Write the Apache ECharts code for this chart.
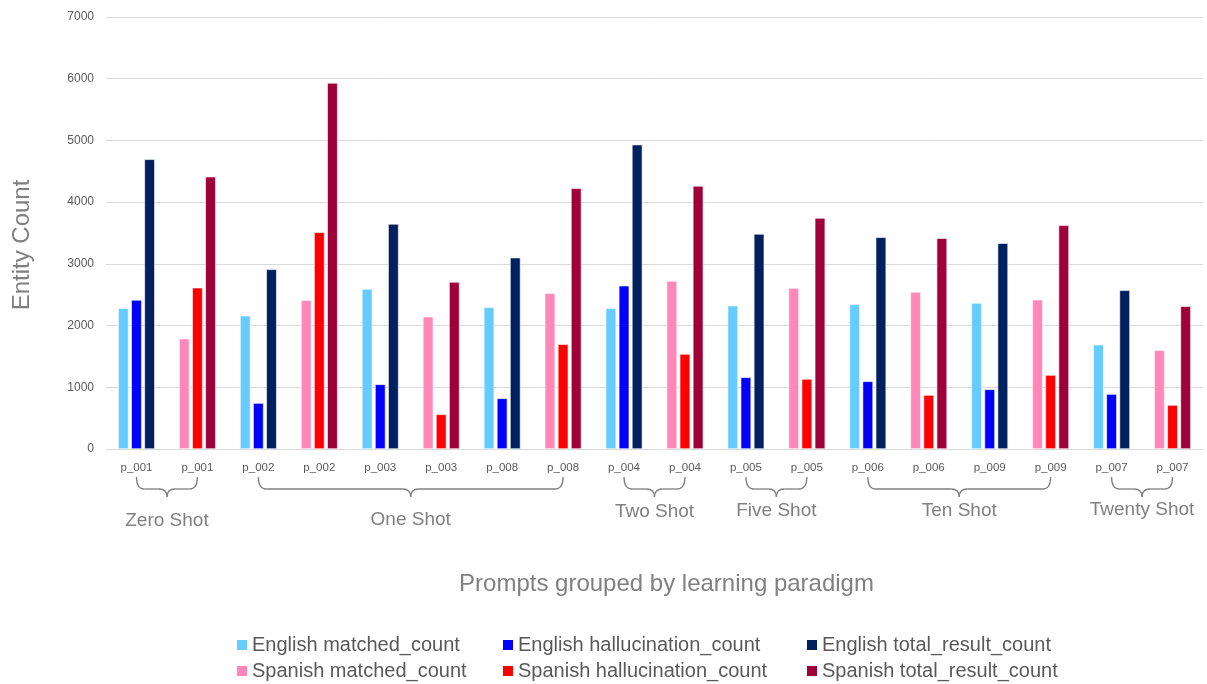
<!DOCTYPE html>
<html>
<head>
<meta charset="utf-8">
<script src="https://cdn.jsdelivr.net/npm/echarts@6/dist/echarts.min.js"></script>
<style>
  html, body { margin: 0; padding: 0; background: #fff; }
  #chart { width: 1207px; height: 684px; }
</style>
</head>
<body>
<div id="chart"></div>
<script>
// Prompt IDs along the x axis; each prompt appears once for English and once for Spanish
const prompts = ['p_001', 'p_001', 'p_002', 'p_002', 'p_003', 'p_003', 'p_008', 'p_008', 'p_004',
                 'p_004', 'p_005', 'p_005', 'p_006', 'p_006', 'p_009', 'p_009', 'p_007', 'p_007'];
const languages = ['en', 'es', 'en', 'es', 'en', 'es', 'en', 'es', 'en',
                   'es', 'en', 'es', 'en', 'es', 'en', 'es', 'en', 'es'];

// English runs (null on Spanish slots)
const enMatched = [2280, null, 2160, null, 2593, null, 2296, null, 2280, null, 2323, null, 2345, null, 2366, null, 1690, null];
const enHalluc  = [2415, null,  745, null, 1048, null,  821, null, 2647, null, 1162, null, 1097, null,  967, null,  891, null];
const enTotal   = [4695, null, 2912, null, 3647, null, 3101, null, 4932, null, 3485, null, 3431, null, 3334, null, 2572, null];

// Spanish runs (null on English slots)
const esMatched = [null, 1788, null, 2410, null, 2145, null, 2523, null, 2723, null, 2609, null, 2545, null, 2420, null, 1600];
const esHalluc  = [null, 2614, null, 3512, null,  562, null, 1697, null, 1540, null, 1135, null,  875, null, 1199, null,  713];
const esTotal   = [null, 4413, null, 5932, null, 2707, null, 4225, null, 4263, null, 3744, null, 3415, null, 3625, null, 2313];

// Learning paradigm groups: first and last category index of each bracket
const groupNames = ['Zero Shot', 'One Shot', 'Two Shot', 'Five Shot', 'Ten Shot', 'Twenty Shot'];
const groupStart = [0, 2, 8, 10, 12, 16];
const groupEnd   = [1, 7, 9, 11, 15, 17];

const yTicks = { min: 0, max: 7000, interval: 1000 };

const seriesNames = [
  'English matched_count', 'English hallucination_count', 'English total_result_count',
  'Spanish matched_count', 'Spanish hallucination_count', 'Spanish total_result_count'
];
const seriesData = [enMatched, enHalluc, enTotal, esMatched, esHalluc, esTotal];
const seriesColors = ['#66CCFF', '#0000FF', '#002060', '#FF88B8', '#FF0000', '#A00038'];
// matched / hallucination / total share a slot across languages
const stackKeys = ['m', 'h', 't', 'm', 'h', 't'];

const FONT = '"Liberation Sans", Arial, sans-serif';
const GRAY = '#595959';
const NAME_GRAY = '#808080';

const chart = echarts.init(document.getElementById('chart'), null, { renderer: 'canvas' });

const axisKeys = prompts.map((p, i) => p + '|' + languages[i]);

const series = seriesNames.map((name, i) => ({
  name,
  type: 'bar',
  stack: stackKeys[i],
  data: seriesData[i],
  barWidth: 10.5,
  barGap: '25%',
  itemStyle: { color: seriesColors[i], borderColor: '#ffffff', borderWidth: 0.6 },
  emphasis: { disabled: true }
}));

// Legend laid out as a 3 x 2 table: one legend component per entry
const legendLefts = [235, 501, 805];
const legendTops = [635, 661];
const legends = seriesNames.map((name, i) => ({
  left: legendLefts[i % 3],
  top: legendTops[Math.floor(i / 3)],
  icon: 'rect',
  itemWidth: 12,
  itemHeight: 12,
  selectedMode: false,
  padding: 0,
  textStyle: { fontFamily: FONT, fontSize: 20, color: GRAY, padding: [0, 0, 0, -1] },
  data: [name]
}));

chart.setOption({
  animation: false,
  backgroundColor: '#ffffff',
  grid: { left: 106, right: 4, top: 17, bottom: 235, containLabel: false, outerBoundsMode: 'none' },
  xAxis: {
    type: 'category',
    data: axisKeys,
    name: 'Prompts grouped by learning paradigm',
    nameLocation: 'middle',
    nameGap: 123,
    nameTextStyle: { fontFamily: FONT, fontSize: 24, color: NAME_GRAY, padding: [0, 0, 0, 24] },
    axisLine: { lineStyle: { color: '#d9d9d9', width: 1 } },
    axisTick: { show: false },
    axisLabel: {
      interval: 0,
      margin: 13,
      fontFamily: FONT,
      fontSize: 11.5,
      color: GRAY,
      formatter: v => v.split('|')[0]
    }
  },
  yAxis: {
    type: 'value',
    min: yTicks.min,
    max: yTicks.max,
    interval: yTicks.interval,
    name: 'Entity Count',
    nameLocation: 'middle',
    nameGap: 72,
    nameRotate: 90,
    nameTextStyle: { fontFamily: FONT, fontSize: 24, color: NAME_GRAY, padding: [0, 24, 0, 0] },
    axisLine: { show: false },
    axisTick: { show: false },
    axisLabel: { fontFamily: FONT, fontSize: 12, color: GRAY, margin: 12, formatter: v => String(v) },
    splitLine: { lineStyle: { color: '#d9d9d9', width: 1 } }
  },
  legend: legends,
  series
});

// Curly brackets and paradigm names under the category labels
const BRACE = { stroke: '#7f7f7f', lineWidth: 1.3, fill: null };
function braceParts(x1, x2, yTop, yMid, yTip) {
  const xm = (x1 + x2) / 2;
  const r = 8;
  const curve = (ax, ay, cx, cy, bx, by) => ({
    type: 'bezierCurve', silent: true,
    shape: { x1: ax, y1: ay, cpx1: cx, cpy1: cy, x2: bx, y2: by },
    style: BRACE
  });
  const seg = (ax, ay, bx, by) => ({
    type: 'line', silent: true,
    shape: { x1: ax, y1: ay, x2: bx, y2: by },
    style: BRACE
  });
  return [
    curve(x1, yTop, x1, yMid, x1 + r, yMid),
    seg(x1 + r, yMid, xm - r, yMid),
    curve(xm - r, yMid, xm, yMid, xm, yTip),
    curve(xm, yTip, xm, yMid, xm + r, yMid),
    seg(xm + r, yMid, x2 - r, yMid),
    curve(x2 - r, yMid, x2, yMid, x2, yTop)
  ];
}

const labelTops = [511, 510, 502, 501, 501, 500];
const graphics = [];
groupNames.forEach((g, k) => {
  const xa = chart.convertToPixel({ xAxisIndex: 0 }, axisKeys[groupStart[k]]);
  const xb = chart.convertToPixel({ xAxisIndex: 0 }, axisKeys[groupEnd[k]]);
  braceParts(xa, xb, 477, 489, 497).forEach(p => graphics.push(p));
  graphics.push({
    type: 'text',
    silent: true,
    x: (xa + xb) / 2,
    y: labelTops[k],
    style: {
      text: g,
      fill: NAME_GRAY,
      font: '19px ' + FONT,
      align: 'center',
      verticalAlign: 'top'
    }
  });
});
chart.setOption({ graphic: graphics });
</script>
</body>
</html>
